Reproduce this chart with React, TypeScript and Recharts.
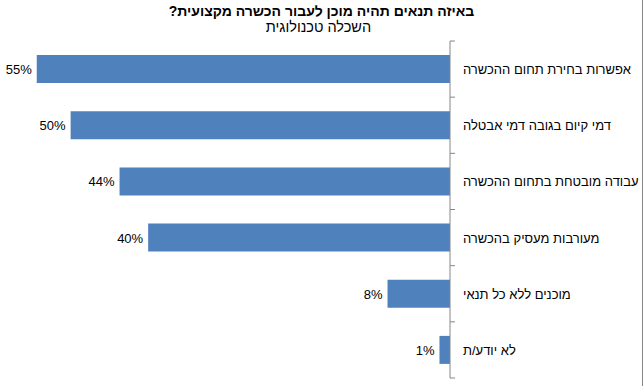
import { BarChart, Bar, XAxis, YAxis, LabelList } from "recharts";

const categories = [
  "אפשרות בחירת תחום ההכשרה",
  "דמי קיום בגובה דמי אבטלה",
  "עבודה מובטחת בתחום ההכשרה",
  "מעורבות מעסיק בהכשרה",
  "מוכנים ללא כל תנאי",
  "לא יודע/ת",
];
const values = [54.9, 50.4, 43.9, 40.1, 8.3, 1.4];

const TITLE = "באיזה תנאים תהיה מוכן לעבור הכשרה מקצועית?";
const SUBTITLE = "השכלה טכנולוגית";

const W = 643;
const H = 386;
const MARGIN = { top: 41, right: 0, bottom: 8, left: 36 };
const BAND = (H - MARGIN.top - MARGIN.bottom) / categories.length;
const AXIS_COLOR = "#868686";
const BAR_COLOR = "#4F81BD";
const FONT = "'Liberation Sans', Arial, sans-serif";

const chartData = categories.map((name, i) => ({ name, value: values[i] }));

function CategoryTick(props: any) {
  const { x, y, payload, index } = props;
  const last = index === categories.length - 1;
  return (
    <g>
      <line x1={x} x2={x + 5} y1={y - BAND / 2} y2={y - BAND / 2} stroke={AXIS_COLOR} />
      {last && (
        <line x1={x} x2={x + 5} y1={y + BAND / 2} y2={y + BAND / 2} stroke={AXIS_COLOR} />
      )}
      <text x={x + 13} y={y} dy={5} textAnchor="start" fontSize={13} fill="#000" fontFamily={FONT}>
        {payload.value}
      </text>
    </g>
  );
}

function ValueLabel(props: any) {
  const { x, y, width, height, value } = props;
  const left = Math.min(x, x + width);
  return (
    <text x={left - 5} y={y + height / 2} dy={5} textAnchor="end" fontSize={13} fill="#000" fontFamily={FONT}>
      {Math.round(value)}%
    </text>
  );
}

export default function App() {
  return (
    <div
      style={{
        position: "absolute",
        left: 0,
        top: 0,
        width: W - 1,
        height: H,
        borderRight: "1px solid " + AXIS_COLOR,
        background: "#fff",
        fontFamily: FONT,
      }}
    >
      <div
        style={{
          position: "absolute",
          top: 3,
          left: 0,
          width: W,
          textAlign: "center",
          direction: "rtl",
          fontWeight: "bold",
          fontSize: 14,
          lineHeight: "16px",
        }}
      >
        {TITLE}
      </div>
      <div
        style={{
          position: "absolute",
          top: 19,
          left: 0,
          width: W - 6,
          textAlign: "center",
          direction: "rtl",
          fontSize: 14.5,
          lineHeight: "16px",
        }}
      >
        {SUBTITLE}
      </div>
      <BarChart
        width={W}
        height={H}
        data={chartData}
        layout="vertical"
        margin={MARGIN}
        barCategoryGap="25%"
        style={{ position: "absolute", left: 0, top: 0 }}
      >
        <XAxis type="number" domain={[0, 55]} reversed hide />
        <YAxis
          type="category"
          dataKey="name"
          orientation="right"
          width={193}
          axisLine={{ stroke: AXIS_COLOR }}
          tickLine={false}
          tickSize={0}
          tickMargin={0}
          tick={CategoryTick}
          interval={0}
        />
        <Bar dataKey="value" fill={BAR_COLOR} isAnimationActive={false}>
          <LabelList dataKey="value" content={ValueLabel} />
        </Bar>
      </BarChart>
    </div>
  );
}
